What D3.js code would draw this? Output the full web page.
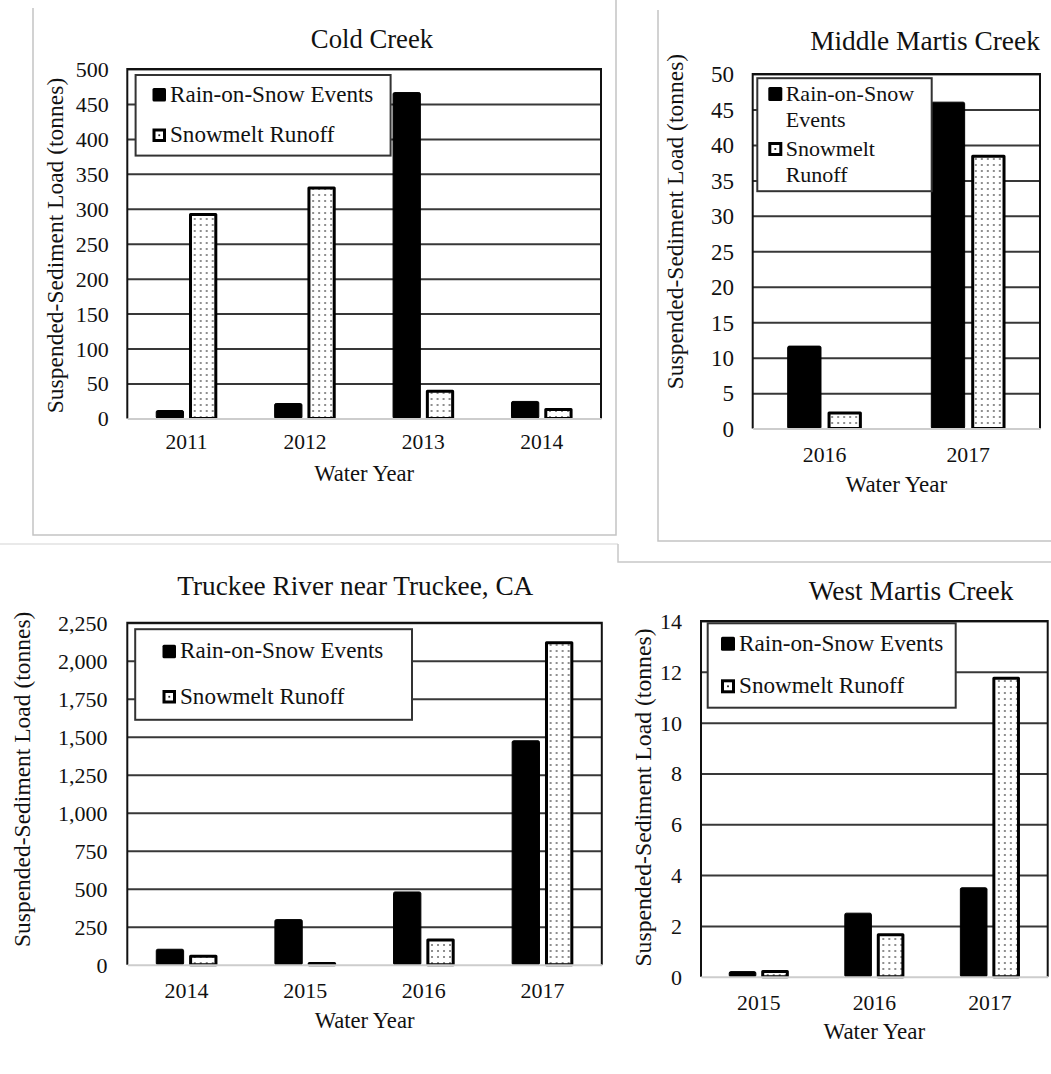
<!DOCTYPE html>
<html>
<head>
<meta charset="utf-8">
<script src="https://cdn.jsdelivr.net/npm/d3@7"></script>
<style>
  body { margin: 0; background: #fff; }
  svg { display: block; }
  svg text { font-family: "Liberation Serif", "Times New Roman", "DejaVu Serif", serif !important; fill: #111; }
</style>
</head>
<body>
<svg id="chart" width="1051" height="1074"></svg>
<script>
// Suspended-sediment loads (tonnes) by water year, split by runoff type
const seriesNames = ["Rain-on-Snow Events", "Snowmelt Runoff"];

const coldYears = ["2011", "2012", "2013", "2014"];
const coldRain  = [12, 22, 467, 25];
const coldSnow  = [294, 332, 41, 15];
const coldTicks = [0, 50, 100, 150, 200, 250, 300, 350, 400, 450, 500];

const middleYears = ["2016", "2017"];
const middleRain  = [11.7, 46.1];
const middleSnow  = [2.4, 38.6];
const middleTicks = [0, 5, 10, 15, 20, 25, 30, 35, 40, 45, 50];

const truckeeYears = ["2014", "2015", "2016", "2017"];
const truckeeRain  = [105, 300, 482, 1477];
const truckeeSnow  = [65, 18, 173, 2129];
const truckeeTicks = [0, 250, 500, 750, 1000, 1250, 1500, 1750, 2000, 2250];

const westYears = ["2015", "2016", "2017"];
const westRain  = [0.22, 2.52, 3.52];
const westSnow  = [0.26, 1.71, 11.81];
const westTicks = [0, 2, 4, 6, 8, 10, 12, 14];

const svg = d3.select("#chart");

// dotted fill used by the snowmelt bars
const defs = svg.append("defs");
const pat = defs.append("pattern")
  .attr("id", "dots").attr("patternUnits", "userSpaceOnUse")
  .attr("width", 6).attr("height", 6);
pat.append("rect").attr("width", 6).attr("height", 6).attr("fill", "#fff");
pat.append("rect").attr("x", 2.3).attr("y", 2.3).attr("width", 1.4).attr("height", 1.4).attr("fill", "#1a1a1a");

// faint frames around each chart
const frame = svg.append("g").attr("fill", "none");
frame.append("path").attr("d", "M33,8V535H616V0").attr("stroke", "#c4c4c4").attr("stroke-width", 1.5);
frame.append("path").attr("d", "M658,10V541H1051").attr("stroke", "#c4c4c4").attr("stroke-width", 1.5);
frame.append("path").attr("d", "M0,544H618").attr("stroke", "#e2e2e2").attr("stroke-width", 1.5);
frame.append("path").attr("d", "M618,544V562H1051").attr("stroke", "#c8c8c8").attr("stroke-width", 1.5);

function drawPanel(cfg, years, rain, snow, ticks, fmt) {
  const g = svg.append("g");
  const x = d3.scaleBand().domain(years).range([cfg.x0, cfg.x1])
    .paddingInner(0.48).paddingOuter(0.24);
  const sub = d3.scaleBand().domain([0, 1]).range([0, x.bandwidth()]).paddingInner(0.15);
  const y = d3.scaleLinear().domain([0, ticks[ticks.length - 1]]).range([cfg.y1, cfg.y0]);

  // horizontal gridlines
  g.append("g")
    .attr("transform", `translate(${cfg.x0},0)`)
    .call(d3.axisLeft(y).tickValues(ticks.filter(t => t > 0)).tickSize(-(cfg.x1 - cfg.x0)).tickFormat(""))
    .call(a => a.select(".domain").remove())
    .call(a => a.selectAll("line").attr("stroke", "#383838").attr("stroke-width", 2));

  // y tick labels
  g.append("g")
    .attr("transform", `translate(${cfg.x0},0)`)
    .attr("font-family", null)
    .call(d3.axisLeft(y).tickValues(ticks).tickSize(0).tickPadding(cfg.tickGap).tickFormat(fmt))
    .call(a => a.select(".domain").remove())
    .call(a => a.selectAll("text").attr("font-size", cfg.tickSize).attr("dy", "0.34em"));

  const rows = years.map((yr, i) => ({ yr, vals: [rain[i], snow[i]] }));

  const groups = g.append("g").selectAll("g").data(rows).join("g")
    .attr("transform", d => `translate(${x(d.yr)},0)`);

  // rain-on-snow bars: solid black
  groups.append("rect")
    .attr("x", sub(0) + 0.5)
    .attr("width", sub.bandwidth() - 1)
    .attr("y", d => y(d.vals[0]) + 0.5)
    .attr("height", d => Math.max(0, y(0) - y(d.vals[0]) - 0.5))
    .attr("fill", "#000").attr("stroke", "#000").attr("stroke-width", 1)
    .attr("rx", 1.5);

  // snowmelt bars: dotted fill with heavy outline
  const sw = cfg.barStroke;
  groups.append("rect")
    .attr("x", sub(1) + sw / 2)
    .attr("width", sub.bandwidth() - sw)
    .attr("y", d => y(d.vals[1]) + sw / 2)
    .attr("height", d => Math.max(0, y(0) - y(d.vals[1]) - sw / 2))
    .attr("fill", "url(#dots)").attr("stroke", "#000").attr("stroke-width", sw)
    .attr("stroke-linejoin", "round");

  // plot frame: dark top/left/right
  g.append("path")
    .attr("d", `M${cfg.x0},${cfg.y1}V${cfg.y0}H${cfg.x1}V${cfg.y1}`)
    .attr("fill", "none").attr("stroke", "#111").attr("stroke-width", 2);

  // x axis along zero, light grey
  g.append("g")
    .attr("transform", `translate(0,${y(0)})`)
    .call(d3.axisBottom(x).tickSize(0).tickPadding(0))
    .call(a => a.select(".domain").attr("stroke", "#cdcdcd").attr("stroke-width", 2))
    .call(a => a.selectAll("text").attr("dy", null).attr("y", cfg.xTickY - y(0))
      .attr("font-size", cfg.xTickSize));

  // titles
  g.append("text").attr("x", cfg.titleX).attr("y", cfg.titleY)
    .attr("text-anchor", "middle").attr("font-size", cfg.titleSize).text(cfg.title);
  g.append("text").attr("x", (cfg.x0 + cfg.x1) / 2).attr("y", cfg.xTitleY)
    .attr("text-anchor", "middle").attr("font-size", cfg.xTitleSize).text("Water Year");
  g.append("text")
    .attr("transform", `translate(${cfg.yTitleX},${cfg.yTitleY}) rotate(-90)`)
    .attr("text-anchor", "middle").attr("font-size", cfg.yTitleSize)
    .text("Suspended-Sediment Load (tonnes)");

  // legend
  const L = cfg.legend;
  const lg = g.append("g");
  lg.append("rect").attr("x", L.x).attr("y", L.y).attr("width", L.w).attr("height", L.h)
    .attr("fill", "#fff").attr("stroke", "#333").attr("stroke-width", 2);
  seriesNames.forEach((name, i) => {
    const cut = name.lastIndexOf(" ");
    const lines = L.wrap ? [name.slice(0, cut), name.slice(cut + 1)] : [name];
    const base = L.rows[i];
    const s = L.sw;
    if (i === 0) {
      lg.append("rect").attr("x", L.swX).attr("y", base - s).attr("width", s).attr("height", s)
        .attr("fill", "#000").attr("rx", 1.5);
    } else {
      lg.append("rect").attr("x", L.swX + 1.5).attr("y", base - s + 1.5).attr("width", s - 3).attr("height", s - 3)
        .attr("fill", "#fff").attr("stroke", "#000").attr("stroke-width", 3);
      lg.append("rect").attr("x", L.swX + s / 2 - 0.9).attr("y", base - s / 2 - 0.9).attr("width", 1.8).attr("height", 1.8)
        .attr("fill", "#222");
    }
    const t = lg.append("text").attr("x", L.textX).attr("y", base).attr("font-size", L.size);
    lines.forEach((ln, k) => {
      t.append("tspan").attr("x", L.textX).attr("dy", k === 0 ? 0 : L.lineGap).text(ln);
    });
  });
}

const plain = d3.format("");
const comma = d3.format(",");

drawPanel({
  title: "Cold Creek", titleX: 372, titleY: 48, titleSize: 26.7,
  x0: 127.3, x1: 601, y0: 69, y1: 418.4,
  tickSize: 22, tickGap: 18.6, xTickY: 449.5, xTickSize: 21.5,
  xTitleY: 481, xTitleSize: 22.6,
  yTitleX: 63, yTitleY: 245.5, yTitleSize: 23.5,
  barStroke: 3,
  legend: { x: 135.6, y: 75, w: 255, h: 80.6, rows: [101.6, 142], lineGap: 0, swX: 152.5, sw: 13.5, textX: 170, size: 23.1, wrap: false }
}, coldYears, coldRain, coldSnow, coldTicks, plain);

drawPanel({
  title: "Middle Martis Creek", titleX: 925, titleY: 50.4, titleSize: 27.4,
  x0: 752.7, x1: 1040, y0: 74, y1: 428.6,
  tickSize: 23, tickGap: 18.7, xTickY: 461.6, xTickSize: 21.8,
  xTitleY: 491.8, xTitleSize: 23,
  yTitleX: 683, yTitleY: 221.6, yTitleSize: 23.5,
  barStroke: 3,
  legend: { x: 757.3, y: 78.2, w: 174.4, h: 113, rows: [101, 156], lineGap: 25.5, swX: 768.3, sw: 14, textX: 785.7, size: 22, wrap: true }
}, middleYears, middleRain, middleSnow, middleTicks, plain);

drawPanel({
  title: "Truckee River near Truckee, CA", titleX: 355.3, titleY: 595.2, titleSize: 27.3,
  x0: 127.3, x1: 601.8, y0: 622.8, y1: 964.7,
  tickSize: 22, tickGap: 19.7, xTickY: 998, xTickSize: 22,
  xTitleY: 1027.7, xTitleSize: 22.6,
  yTitleX: 29.6, yTitleY: 779.3, yTitleSize: 23.5,
  barStroke: 3,
  legend: { x: 135.2, y: 629.2, w: 276.8, h: 90.6, rows: [658.2, 703.5], lineGap: 0, swX: 162.5, sw: 13.5, textX: 180, size: 23.1, wrap: false }
}, truckeeYears, truckeeRain, truckeeSnow, truckeeTicks, comma);

drawPanel({
  title: "West Martis Creek", titleX: 911, titleY: 600, titleSize: 27.4,
  x0: 701, x1: 1047.7, y0: 621, y1: 976.7,
  tickSize: 22, tickGap: 19, xTickY: 1010, xTickSize: 21.7,
  xTitleY: 1039, xTitleSize: 23,
  yTitleX: 651, yTitleY: 797.5, yTitleSize: 23.7,
  barStroke: 3,
  legend: { x: 707.7, y: 623.3, w: 248, h: 84.4, rows: [650.7, 693.3], lineGap: 0, swX: 721, sw: 14, textX: 739, size: 23.2, wrap: false }
}, westYears, westRain, westSnow, westTicks, plain);
</script>
</body>
</html>
